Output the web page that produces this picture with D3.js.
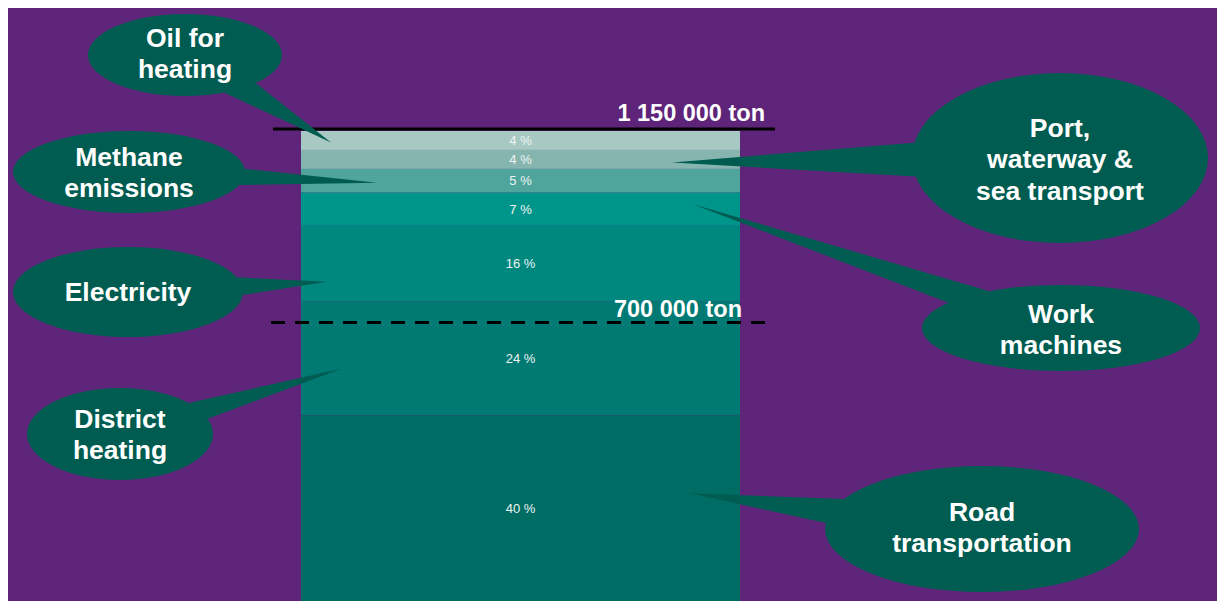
<!DOCTYPE html>
<html>
<head>
<meta charset="utf-8">
<script src="https://cdn.jsdelivr.net/npm/d3@7"></script>
<style>
  html, body { margin: 0; padding: 0; background: #fff; }
  svg { display: block; font-family: "Liberation Sans", Arial, sans-serif; }
</style>
</head>
<body>
<svg id="chart" width="1217" height="601"></svg>
<script>
// sources, top of the bar first
const sources = [
	"Oil for heating",
	"Port, waterway & sea transport",
	"Methane emissions",
	"Work machines",
	"Electricity",
	"District heating",
	"Road transportation"
]
const shares = [4, 4, 5, 7, 16, 24, 40]
const calloutLines = [
	["Oil for", "heating"],
	["Port,", "waterway &", "sea transport"],
	["Methane", "emissions"],
	["Work", "machines"],
	["Electricity"],
	["District", "heating"],
	["Road", "transportation"]
]
const totalTon = 1150000
const targetTon = 700000

const colours = {
	purple: "#5e2479",
	bubble: "#005c50",
	segments: ["#a7c8c3", "#86b5af", "#4fa49b", "#00958a", "#00887f", "#007a72", "#006c64"]
}

// callout geometry (ellipse centre/radii, pointer tip x and y nudge from segment middle)
const callouts = [
	{ cx: 185, cy: 55, rx: 97, ry: 41, tipX: 331, tipDy: 2, textDy: -2 },
	{ cx: 1060, cy: 158, rx: 148, ry: 85, tipX: 672, tipDy: 3, textDy: 1 },
	{ cx: 129, cy: 172, rx: 116, ry: 41, tipX: 377, tipDy: 2, textDy: 0 },
	{ cx: 1061, cy: 328, rx: 139, ry: 43, tipX: 693, tipDy: -5, textDy: 1 },
	{ cx: 128, cy: 292, rx: 115, ry: 45, tipX: 327, tipDy: 18, textDy: 0 },
	{ cx: 120, cy: 434, rx: 93, ry: 46, tipX: 342, tipDy: 10, textDy: 0 },
	{ cx: 982, cy: 529, rx: 157, ry: 63, tipX: 690, tipDy: -17, textDy: -2 }
]

const svg = d3.select("#chart")

svg.append("rect")
	.attr("x", 8).attr("y", 8)
	.attr("width", 1217 - 8).attr("height", 601 - 8)
	.attr("fill", colours.purple)

const y = d3.scaleLinear().domain([0, totalTon]).range([605, 131])
const x = d3.scaleBand().domain(["total"]).range([301, 740]).padding(0)

// stack from the bottom up
const stacked = []
let acc = 0
for (let i = shares.length - 1; i >= 0; i--) {
	const ton = shares[i] / 100 * totalTon
	stacked[i] = { name: sources[i], share: shares[i], y0: acc, y1: acc + ton, i }
	acc += ton
}

const seg = svg.append("g").selectAll("g")
	.data(stacked)
	.enter()
	.append("g")

seg.append("rect")
	.attr("x", x("total"))
	.attr("width", x.bandwidth())
	.attr("y", d => y(d.y1))
	.attr("height", d => y(d.y0) - y(d.y1))
	.attr("fill", d => colours.segments[d.i])

seg.append("text")
	.attr("x", x("total") + x.bandwidth() / 2)
	.attr("y", d => (y(d.y0) + y(d.y1)) / 2 - (d.i === 6 ? 2 : 0))
	.attr("dy", "0.35em")
	.attr("text-anchor", "middle")
	.attr("font-size", 13)
	.attr("fill", "#eef4f3")
	.text(d => `${d.share} %`)

// reference lines
svg.append("line")
	.attr("x1", 273).attr("x2", 775)
	.attr("y1", y(totalTon) - 2).attr("y2", y(totalTon) - 2)
	.attr("stroke", "#000").attr("stroke-width", 3)

svg.append("text")
	.attr("x", 765).attr("y", y(totalTon) - 10)
	.attr("text-anchor", "end")
	.attr("font-size", 23.5).attr("font-weight", "bold")
	.attr("fill", "#fff")
	.text("1 150 000 ton")

svg.append("line")
	.attr("x1", 271).attr("x2", 765)
	.attr("y1", y(targetTon) + 6).attr("y2", y(targetTon) + 6)
	.attr("stroke", "#000").attr("stroke-width", 3)
	.attr("stroke-dasharray", "14 10")

svg.append("text")
	.attr("x", 742).attr("y", y(targetTon) + 0.5)
	.attr("text-anchor", "end")
	.attr("font-size", 23.5).attr("font-weight", "bold")
	.attr("fill", "#fff")
	.text("700 000 ton")

// speech bubbles
const half = 11.5 * Math.PI / 180
const bubble = svg.append("g").selectAll("g")
	.data(stacked.map((d, i) => ({ ...d, ...callouts[i], lines: calloutLines[i] })))
	.enter()
	.append("g")

bubble.append("path")
	.attr("fill", colours.bubble)
	.attr("d", d => {
		const tipY = (y(d.y0) + y(d.y1)) / 2 + d.tipDy
		const a = Math.atan2((tipY - d.cy) / d.ry, (d.tipX - d.cx) / d.rx)
		const p1 = [d.cx + d.rx * Math.cos(a - half), d.cy + d.ry * Math.sin(a - half)]
		const p2 = [d.cx + d.rx * Math.cos(a + half), d.cy + d.ry * Math.sin(a + half)]
		return `M${p1}L${d.tipX},${tipY}L${p2}Z`
	})

bubble.append("ellipse")
	.attr("cx", d => d.cx).attr("cy", d => d.cy)
	.attr("rx", d => d.rx).attr("ry", d => d.ry)
	.attr("fill", colours.bubble)

bubble.append("text")
	.attr("text-anchor", "middle")
	.attr("font-size", 26.5).attr("font-weight", "bold")
	.attr("fill", "#fff")
	.selectAll("tspan")
	.data(d => d.lines.map((t, k) => ({ t, k, n: d.lines.length, cx: d.cx, cy: d.cy + d.textDy })))
	.enter()
	.append("tspan")
	.attr("x", d => d.cx)
	.attr("y", d => d.cy + (d.k - (d.n - 1) / 2) * 31.5)
	.attr("dy", "0.35em")
	.text(d => d.t)
</script>
</body>
</html>
